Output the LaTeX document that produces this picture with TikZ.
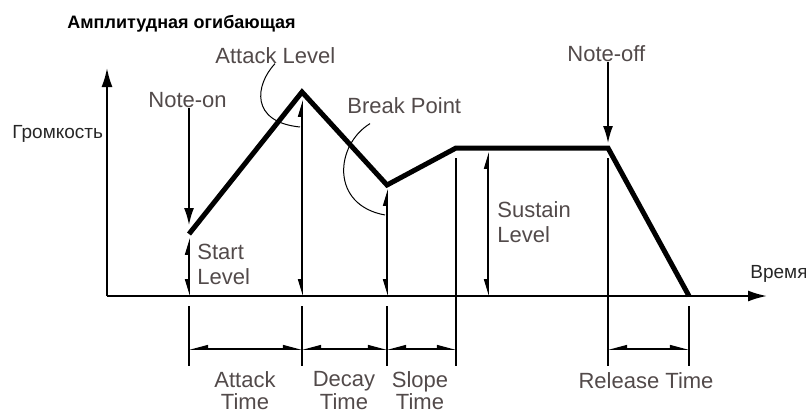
\documentclass[tikz,border=0pt]{standalone}
\usepackage{fontspec}
\setmainfont{Liberation Sans}
\usetikzlibrary{arrows.meta}

\definecolor{labgray}{RGB}{82,74,74}

\begin{document}
\begin{tikzpicture}[x=0.5pt, y=-0.5pt,
          lab/.style={text=labgray, font=\fontsize{11}{12.5}\selectfont, inner sep=0pt},
          tlab/.style={lab, font=\fontsize{11}{11.3}\selectfont, anchor=north, align=center},
          rulab/.style={text=black!85, font=\fontsize{9.5}{11}\selectfont, inner sep=0pt},
          env/.style={line width=2.5pt, line join=miter},
          axis/.style={line width=1pt, -{Latex[length=9.5pt,width=5.5pt]}},
          pt/.style={line width=0.8pt, -{Latex[length=8.5pt,width=5pt]}},
          tick/.style={line width=0.8pt},
          lvl/.style={line width=0.8pt,
            {Triangle[harpoon,length=7pt,width=4pt]}-{Triangle[harpoon,swap,length=7pt,width=4pt]}},
          dim/.style={line width=0.8pt,
            {Triangle[harpoon,swap,length=8pt,width=4pt]}-{Triangle[harpoon,length=8pt,width=4pt]}},
          lead/.style={line width=0.5pt}
        ]
        \useasboundingbox (0,0) rectangle (806,412);
        % Pixel coordinates, y runs downwards.
        \coordinate (O) at (107,296);
        \coordinate (yend) at (107,68);
        \coordinate (xend) at (767,296);
        \coordinate (S) at (189,234);
        \coordinate (P) at (302,92);
        \coordinate (B) at (387,185);
        \coordinate (U) at (456,148);
        \coordinate (R) at (608,148);
        \coordinate (Z) at (689,296);
        \coordinate (sl) at (488,148);
        \coordinate (mid) at (0,158);
        \coordinate (top) at (0,306);
        \coordinate (bot) at (0,366);
        \coordinate (dm) at (0,349);

        \node[anchor=base west, inner sep=0pt, font=\fontsize{9}{11}\selectfont\bfseries] (title)
            at (67,28) {Амплитудная огибающая};
        \node[rulab, anchor=base west] (vol) at (12,138) {Громкость};
        \node[rulab, anchor=base west] (time) at (750,278) {Время};

        \draw[axis] (O) -- (yend);
        \draw[axis] (O) -- (xend);
        \draw[env] (S) -- (P) -- (B) -- (U) -- (R) -- (Z);

        \node[lab, anchor=base west] (non) at (148,107) {Note-on};
        \node[lab, anchor=base west] (noff) at (567,61) {Note-off};
        \node[lab, anchor=base west] (alab) at (215,63) {Attack Level};
        \node[lab, anchor=base west] (blab) at (347,113) {Break Point};
        \node[lab, anchor=north west, align=left] (slab) at (197,244) {Start\\Level};
        \node[lab, anchor=north west, align=left] (sulab) at (497,201) {Sustain\\Level};

        \draw[pt, shorten >=4.5pt] (non.south -| S) -- (S);
        \draw[pt, shorten >=2.5pt] (noff.south -| R) -- (R);

        \coordinate (aend) at (300,127);
        \coordinate (bend) at (385,215);
        \draw[lead] ([xshift=30pt]alab.south west) .. controls (255,85) and (250,122) .. (aend);
        \draw[lead] ([xshift=11.5pt,yshift=-5pt]blab.south west) .. controls (335,145) and (330,205) .. (bend);

        \draw[lvl, shorten <=2pt] (S) -- (S |- O);
        \draw[lvl, shorten <=4pt] (P) -- (P |- O);
        \draw[lvl, shorten <=2pt] (B) -- (B |- O);
        \draw[lvl, shorten <=2pt] (sl) -- (sl |- O);

        \draw[tick] (S |- top) -- (S |- bot);
        \draw[tick] (P |- top) -- (P |- bot);
        \draw[tick] (B |- top) -- (B |- bot);
        \draw[tick] (U |- mid) -- (U |- bot);
        \draw[tick] (R |- mid) -- (R |- bot);
        \draw[tick] (Z |- top) -- (Z |- bot);

        \draw[dim] (S |- dm) -- (P |- dm);
        \draw[dim] (P |- dm) -- (B |- dm);
        \draw[dim] (B |- dm) -- (U |- dm);
        \draw[dim] (R |- dm) -- (Z |- dm);

        \node[tlab] (atk) at (245,371) {Attack\\Time};
        \node[tlab] (dec) at (344,371) {Decay\\Time};
        \node[tlab] (slp) at (420,371) {Slope\\Time};
        \node[lab, anchor=north] (rel) at (646,372) {Release Time};
      \end{tikzpicture}
\end{document}
